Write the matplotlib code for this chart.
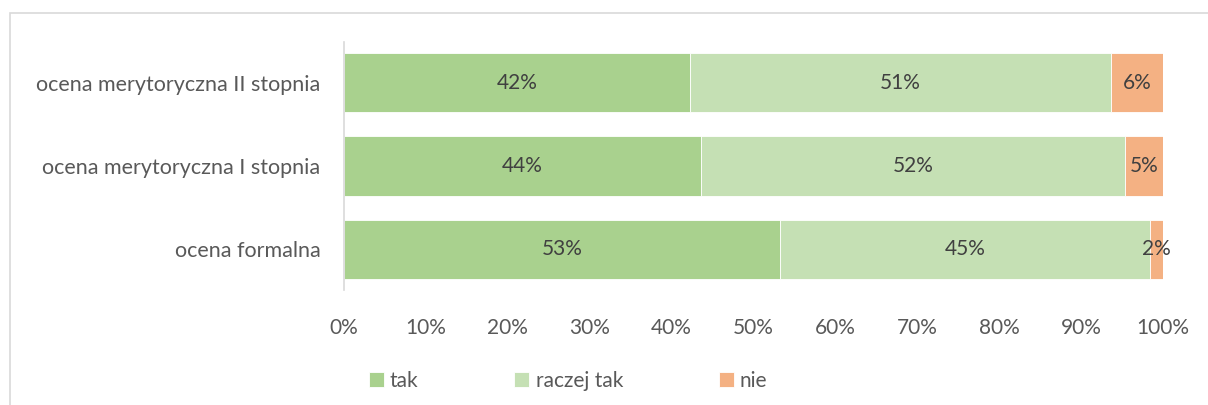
import matplotlib.pyplot as plt
from matplotlib.patches import Rectangle

plt.rcParams['font.family'] = ['Lato', 'DejaVu Sans']

categories = ['ocena formalna', 'ocena merytoryczna I stopnia', 'ocena merytoryczna II stopnia']
tak = [53.2, 43.6, 42.2]
raczej_tak = [45.2, 51.8, 51.4]
nie = [1.6, 4.6, 6.4]
series_names = ['tak', 'raczej tak', 'nie']
colors = ['#A9D18E', '#C5E0B4', '#F4B183']
xticks = [0, 10, 20, 30, 40, 50, 60, 70, 80, 90, 100]

fig = plt.figure(figsize=(12.08, 4.05), dpi=100)
ax = fig.add_axes([344 / 1208, 1 - 290 / 405, (1163 - 344) / 1208, (290 - 42) / 405])

# chart frame
fig.patches.append(Rectangle((10 / 1208, -0.1), 1.2, 1 - 13 / 405 + 0.1,
                             transform=fig.transFigure, fill=False,
                             edgecolor='#D9D9D9', linewidth=1.2))

y = range(len(categories))
left = [0] * len(categories)
for name, vals, c in zip(series_names, [tak, raczej_tak, nie], colors):
    bars = ax.barh(y, vals, left=left, height=0.71, color=c, label=name,
                   edgecolor='white', linewidth=0.6)
    ax.bar_label(bars, labels=[f'{v:.0f}%' for v in vals], label_type='center',
                 fontsize=15, color='#404040')
    left = [a + b for a, b in zip(left, vals)]

ax.set_xlim(0, 100)
ax.set_ylim(-0.49, 2.49)
ax.set_yticks(list(y))
ax.set_yticklabels(categories, fontsize=15.5, color='#595959')
ax.set_xticks(xticks)
ax.set_xticklabels([f'{t}%' for t in xticks], fontsize=15, color='#595959')
ax.tick_params(length=0)
ax.tick_params(axis='x', pad=20)
ax.tick_params(axis='y', pad=17)
for s in ['top', 'right', 'bottom']:
    ax.spines[s].set_visible(False)
ax.spines['left'].set_color('#D9D9D9')
ax.spines['left'].set_linewidth(1.2)

fig.legend(loc='center', bbox_to_anchor=(568 / 1208, 1 - 381 / 405), ncol=3,
           frameon=False, fontsize=15, handlelength=0.72, handleheight=0.72,
           handletextpad=0.3, columnspacing=4.6, labelcolor='#595959')

fig.savefig('out.png', dpi=100)
